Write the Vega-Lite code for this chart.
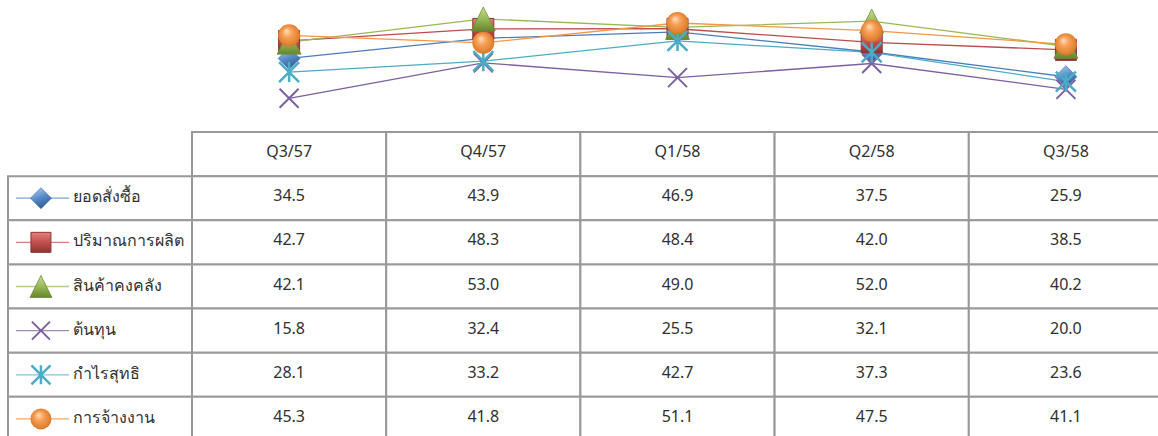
{
  "$schema": "https://vega.github.io/schema/vega-lite/v6.json",
  "padding": {"left": 7, "top": 4, "right": 0, "bottom": 0},
  "config": {"view": {"stroke": null}, "font": "Noto Sans", "text": {"color": "#303030"}},
  "datasets": {
    "vals": [
      {"series": "ยอดสั่งซื้อ", "quarter": "Q3/57", "value": 34.5},
      {"series": "ยอดสั่งซื้อ", "quarter": "Q4/57", "value": 43.9},
      {"series": "ยอดสั่งซื้อ", "quarter": "Q1/58", "value": 46.9},
      {"series": "ยอดสั่งซื้อ", "quarter": "Q2/58", "value": 37.5},
      {"series": "ยอดสั่งซื้อ", "quarter": "Q3/58", "value": 25.9},
      {"series": "ปริมาณการผลิต", "quarter": "Q3/57", "value": 42.7},
      {"series": "ปริมาณการผลิต", "quarter": "Q4/57", "value": 48.3},
      {"series": "ปริมาณการผลิต", "quarter": "Q1/58", "value": 48.4},
      {"series": "ปริมาณการผลิต", "quarter": "Q2/58", "value": 42.0},
      {"series": "ปริมาณการผลิต", "quarter": "Q3/58", "value": 38.5},
      {"series": "สินค้าคงคลัง", "quarter": "Q3/57", "value": 42.1},
      {"series": "สินค้าคงคลัง", "quarter": "Q4/57", "value": 53.0},
      {"series": "สินค้าคงคลัง", "quarter": "Q1/58", "value": 49.0},
      {"series": "สินค้าคงคลัง", "quarter": "Q2/58", "value": 52.0},
      {"series": "สินค้าคงคลัง", "quarter": "Q3/58", "value": 40.2},
      {"series": "ต้นทุน", "quarter": "Q3/57", "value": 15.8},
      {"series": "ต้นทุน", "quarter": "Q4/57", "value": 32.4},
      {"series": "ต้นทุน", "quarter": "Q1/58", "value": 25.5},
      {"series": "ต้นทุน", "quarter": "Q2/58", "value": 32.1},
      {"series": "ต้นทุน", "quarter": "Q3/58", "value": 20.0},
      {"series": "กำไรสุทธิ", "quarter": "Q3/57", "value": 28.1},
      {"series": "กำไรสุทธิ", "quarter": "Q4/57", "value": 33.2},
      {"series": "กำไรสุทธิ", "quarter": "Q1/58", "value": 42.7},
      {"series": "กำไรสุทธิ", "quarter": "Q2/58", "value": 37.3},
      {"series": "กำไรสุทธิ", "quarter": "Q3/58", "value": 23.6},
      {"series": "การจ้างงาน", "quarter": "Q3/57", "value": 45.3},
      {"series": "การจ้างงาน", "quarter": "Q4/57", "value": 41.8},
      {"series": "การจ้างงาน", "quarter": "Q1/58", "value": 51.1},
      {"series": "การจ้างงาน", "quarter": "Q2/58", "value": 47.5},
      {"series": "การจ้างงาน", "quarter": "Q3/58", "value": 41.1}
    ],
    "series": [
      {"series": "ยอดสั่งซื้อ"},
      {"series": "ปริมาณการผลิต"},
      {"series": "สินค้าคงคลัง"},
      {"series": "ต้นทุน"},
      {"series": "กำไรสุทธิ"},
      {"series": "การจ้างงาน"}
    ],
    "quarters": [
      {"quarter": "Q3/57"},
      {"quarter": "Q4/57"},
      {"quarter": "Q1/58"},
      {"quarter": "Q2/58"},
      {"quarter": "Q3/58"}
    ]
  },
  "columns": 2,
  "spacing": 0,
  "bounds": "flush",
  "concat": [
    {
      "width": 184,
      "height": 128,
      "data": {"values": []},
      "mark": {"type": "text", "text": ""},
      "encoding": {}
    },
    {
      "width": 967,
      "height": 128,
      "data": {"name": "vals"},
      "encoding": {
        "x": {"field": "quarter", "type": "nominal", "axis": null,
              "scale": {"type": "point", "domain": ["Q3/57", "Q4/57", "Q1/58", "Q2/58", "Q3/58"], "range": [0, 971], "padding": 0.5}},
        "y": {"field": "value", "type": "quantitative", "axis": null,
              "scale": {"domain": [0, 60], "nice": false, "zero": true}}
      },
      "layer": [
        {
          "mark": {"type": "line", "strokeWidth": 1.3},
          "encoding": {
            "color": {"field": "series", "type": "nominal", "legend": null,
                      "scale": {"domain": ["ยอดสั่งซื้อ", "ปริมาณการผลิต", "สินค้าคงคลัง", "ต้นทุน", "กำไรสุทธิ", "การจ้างงาน"],
                                "range": ["#4A7EBB", "#BE4B48", "#98B954", "#7D60A0", "#4BACC6", "#F79646"]}}
          }
        },
        {
          "transform": [{"filter": {"field": "series", "equal": "ยอดสั่งซื้อ"}}],
          "mark": {"type": "point", "shape": "M0,-1L1,0L0,1L-1,0Z", "size": 484, "filled": true, "opacity": 1,
                   "fill": {"gradient": "linear", "x1": 0.3, "y1": 0, "x2": 0.7, "y2": 1, "stops": [{"offset": 0, "color": "#A3C6EE"}, {"offset": 0.45, "color": "#5A8CCB"}, {"offset": 1, "color": "#2A5489"}]},
                   "stroke": "#35649E", "strokeWidth": 0.6}
        },
        {
          "transform": [{"filter": {"field": "series", "equal": "ปริมาณการผลิต"}}],
          "mark": {"type": "point", "shape": "M-1,-1H1V1H-1Z", "size": 441, "filled": true, "opacity": 1,
                   "fill": {"gradient": "linear", "x1": 0, "y1": 0, "x2": 0, "y2": 1, "stops": [{"offset": 0, "color": "#E5817E"}, {"offset": 0.5, "color": "#C0504D"}, {"offset": 1, "color": "#8C3431"}]},
                   "stroke": "#8C3431", "strokeWidth": 1}
        },
        {
          "transform": [{"filter": {"field": "series", "equal": "สินค้าคงคลัง"}}],
          "mark": {"type": "point", "shape": "M0,-1L1,1L-1,1Z", "size": 576, "filled": true, "opacity": 1,
                   "fill": {"gradient": "linear", "x1": 0, "y1": 0, "x2": 0, "y2": 1, "stops": [{"offset": 0, "color": "#C6DE9C"}, {"offset": 0.5, "color": "#98B954"}, {"offset": 1, "color": "#66852F"}]},
                   "stroke": "#6F8E37", "strokeWidth": 0.8}
        },
        {
          "transform": [{"filter": {"field": "series", "equal": "ต้นทุน"}}],
          "mark": {"type": "point", "shape": "M-1,-1L1,1M-1,1L1,-1", "size": 361, "filled": false, "opacity": 1,
                   "stroke": "#7D60A0", "strokeWidth": 2}
        },
        {
          "transform": [{"filter": {"field": "series", "equal": "กำไรสุทธิ"}}],
          "mark": {"type": "point", "shape": "M-1,-1L1,1M-1,1L1,-1M0,-1L0,1", "size": 400, "filled": false, "opacity": 1,
                   "stroke": "#4BACC6", "strokeWidth": 2.5}
        },
        {
          "transform": [{"filter": {"field": "series", "equal": "การจ้างงาน"}}],
          "mark": {"type": "point", "shape": "circle", "size": 484, "filled": true, "opacity": 1,
                   "fill": {"gradient": "radial", "x1": 0.38, "y1": 0.3, "r1": 0, "x2": 0.5, "y2": 0.5, "r2": 0.6, "stops": [{"offset": 0, "color": "#FFE3C2"}, {"offset": 0.35, "color": "#F8A25A"}, {"offset": 0.8, "color": "#E07F2E"}, {"offset": 1, "color": "#B9651F"}]},
                   "strokeWidth": 0}
        }
      ]
    },
    {
      "width": 184,
      "height": 304,
      "data": {"name": "series"},
      "encoding": {
        "y": {"field": "series", "type": "nominal", "axis": null,
              "scale": {"type": "band", "domain": ["hdr", "ยอดสั่งซื้อ", "ปริมาณการผลิต", "สินค้าคงคลัง", "ต้นทุน", "กำไรสุทธิ", "การจ้างงาน"], "range": [0, 309], "paddingInner": 0, "paddingOuter": 0}}
      },
      "layer": [
        {
          "mark": {"type": "rect", "fill": "#ffffff", "stroke": "#999999", "strokeWidth": 2}
        },
        {
          "mark": {"type": "rule", "strokeWidth": 1.3},
          "encoding": {
            "x": {"datum": 0.043, "type": "quantitative", "axis": null, "scale": {"domain": [0, 1], "nice": false, "zero": false}},
            "x2": {"datum": 0.332},
            "stroke": {"field": "series", "type": "nominal", "legend": null,
                       "scale": {"domain": ["ยอดสั่งซื้อ", "ปริมาณการผลิต", "สินค้าคงคลัง", "ต้นทุน", "กำไรสุทธิ", "การจ้างงาน"],
                                 "range": ["#7FA3D0", "#D38280", "#B4CE84", "#A08BBB", "#82C6D8", "#F7A666"]}}
          }
        },
        {
          "transform": [{"filter": {"field": "series", "equal": "ยอดสั่งซื้อ"}}],
          "mark": {"type": "point", "shape": "M0,-1L1,0L0,1L-1,0Z", "size": 441, "filled": true, "opacity": 1,
                   "fill": {"gradient": "linear", "x1": 0.3, "y1": 0, "x2": 0.7, "y2": 1, "stops": [{"offset": 0, "color": "#A3C6EE"}, {"offset": 0.45, "color": "#5A8CCB"}, {"offset": 1, "color": "#2A5489"}]},
                   "stroke": "#35649E", "strokeWidth": 0.6},
          "encoding": {"x": {"datum": 0.179, "type": "quantitative"}}
        },
        {
          "transform": [{"filter": {"field": "series", "equal": "ปริมาณการผลิต"}}],
          "mark": {"type": "point", "shape": "M-1,-1H1V1H-1Z", "size": 400, "filled": true, "opacity": 1,
                   "fill": {"gradient": "linear", "x1": 0, "y1": 0, "x2": 0, "y2": 1, "stops": [{"offset": 0, "color": "#E5817E"}, {"offset": 0.5, "color": "#C0504D"}, {"offset": 1, "color": "#8C3431"}]},
                   "stroke": "#8C3431", "strokeWidth": 1},
          "encoding": {"x": {"datum": 0.179, "type": "quantitative"}}
        },
        {
          "transform": [{"filter": {"field": "series", "equal": "สินค้าคงคลัง"}}],
          "mark": {"type": "point", "shape": "M0,-1L1,1L-1,1Z", "size": 484, "filled": true, "opacity": 1,
                   "fill": {"gradient": "linear", "x1": 0, "y1": 0, "x2": 0, "y2": 1, "stops": [{"offset": 0, "color": "#C6DE9C"}, {"offset": 0.5, "color": "#98B954"}, {"offset": 1, "color": "#66852F"}]},
                   "stroke": "#6F8E37", "strokeWidth": 0.8},
          "encoding": {"x": {"datum": 0.179, "type": "quantitative"}}
        },
        {
          "transform": [{"filter": {"field": "series", "equal": "ต้นทุน"}}],
          "mark": {"type": "point", "shape": "M-1,-1L1,1M-1,1L1,-1", "size": 324, "filled": false, "opacity": 1,
                   "stroke": "#7D60A0", "strokeWidth": 2},
          "encoding": {"x": {"datum": 0.179, "type": "quantitative"}}
        },
        {
          "transform": [{"filter": {"field": "series", "equal": "กำไรสุทธิ"}}],
          "mark": {"type": "point", "shape": "M-1,-1L1,1M-1,1L1,-1M0,-1L0,1", "size": 361, "filled": false, "opacity": 1,
                   "stroke": "#4BACC6", "strokeWidth": 2.5},
          "encoding": {"x": {"datum": 0.179, "type": "quantitative"}}
        },
        {
          "transform": [{"filter": {"field": "series", "equal": "การจ้างงาน"}}],
          "mark": {"type": "point", "shape": "circle", "size": 441, "filled": true, "opacity": 1,
                   "fill": {"gradient": "radial", "x1": 0.38, "y1": 0.3, "r1": 0, "x2": 0.5, "y2": 0.5, "r2": 0.6, "stops": [{"offset": 0, "color": "#FFE3C2"}, {"offset": 0.35, "color": "#F8A25A"}, {"offset": 0.8, "color": "#E07F2E"}, {"offset": 1, "color": "#B9651F"}]},
                   "strokeWidth": 0},
          "encoding": {"x": {"datum": 0.179, "type": "quantitative"}}
        },
        {
          "mark": {"type": "text", "align": "left", "baseline": "middle", "fontSize": 16, "dy": -1},
          "encoding": {
            "x": {"datum": 0.353, "type": "quantitative"},
            "text": {"field": "series", "type": "nominal"}
          }
        }
      ]
    },
    {
      "width": 967,
      "height": 304,
      "data": {"name": "vals"},
      "encoding": {
        "x": {"field": "quarter", "type": "nominal", "axis": null,
              "scale": {"type": "band", "domain": ["Q3/57", "Q4/57", "Q1/58", "Q2/58", "Q3/58"], "range": [0, 971], "paddingInner": 0, "paddingOuter": 0}},
        "y": {"field": "series", "type": "nominal", "axis": null,
              "scale": {"type": "band", "domain": ["hdr", "ยอดสั่งซื้อ", "ปริมาณการผลิต", "สินค้าคงคลัง", "ต้นทุน", "กำไรสุทธิ", "การจ้างงาน"], "range": [0, 309], "paddingInner": 0, "paddingOuter": 0}}
      },
      "layer": [
        {
          "data": {"name": "quarters"},
          "mark": {"type": "rect", "fill": "#ffffff", "stroke": "#999999", "strokeWidth": 2},
          "encoding": {"y": {"datum": "hdr", "type": "nominal"}}
        },
        {
          "data": {"name": "quarters"},
          "mark": {"type": "text", "fontSize": 16, "baseline": "middle", "dy": -2},
          "encoding": {"y": {"datum": "hdr", "type": "nominal"}, "text": {"field": "quarter", "type": "nominal"}}
        },
        {
          "mark": {"type": "rect", "fill": "#ffffff", "stroke": "#999999", "strokeWidth": 2}
        },
        {
          "mark": {"type": "text", "fontSize": 16, "baseline": "middle", "dy": -2},
          "encoding": {"text": {"field": "value", "type": "quantitative", "format": ".1f"}}
        }
      ]
    }
  ]
}
